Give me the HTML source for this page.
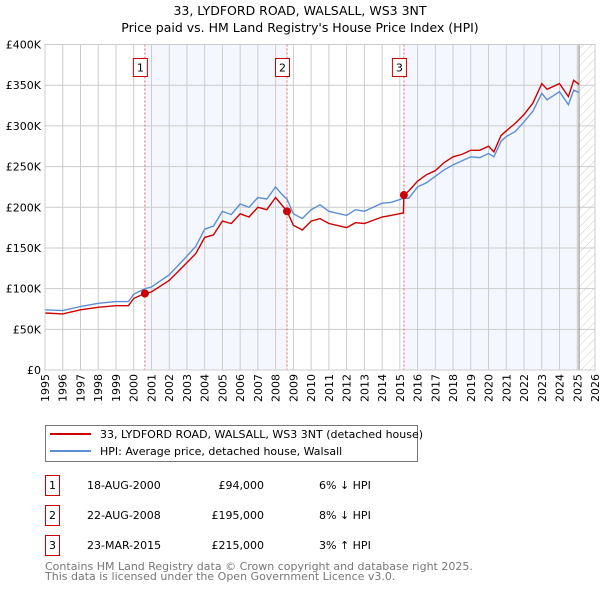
<!DOCTYPE html>
<html><head><meta charset="utf-8"><style>
body{margin:0;background:#fff;font-family:"DejaVu Sans","Liberation Sans",sans-serif;}
svg text{font-family:"DejaVu Sans","Liberation Sans",sans-serif;}
</style></head><body>
<svg id="c" width="600" height="590" xmlns="http://www.w3.org/2000/svg">
<defs><pattern id="hatch" width="6" height="6" patternUnits="userSpaceOnUse" patternTransform="rotate(45)"><line x1="0" y1="0" x2="0" y2="6" stroke="#ccc" stroke-width="1"/></pattern></defs>
<text x="300" y="15" text-anchor="middle" font-size="12.5">33, LYDFORD ROAD, WALSALL, WS3 3NT</text>
<text x="300" y="32" text-anchor="middle" font-size="12.5">Price paid vs. HM Land Registry's House Price Index (HPI)</text>
<g id="plot"></g>
<g>
<rect x="45.5" y="425.5" width="372" height="36" fill="#fff" stroke="#777"/>
<line x1="50" y1="434" x2="91" y2="434" stroke="#cc0000" stroke-width="2"/>
<text x="100" y="438" font-size="11">33, LYDFORD ROAD, WALSALL, WS3 3NT (detached house)</text>
<line x1="50" y1="451" x2="91" y2="451" stroke="#5b8fd4" stroke-width="2"/>
<text x="100" y="455" font-size="11">HPI: Average price, detached house, Walsall</text>
</g>
<g id="table" font-size="11"></g>
<text x="45" y="570" font-size="11" fill="#777">Contains HM Land Registry data © Crown copyright and database right 2025.</text>
<text x="45" y="580" font-size="11" fill="#777">This data is licensed under the Open Government Licence v3.0.</text>
</svg>
<script>
const years=[1995,1996,1997,1998,1999,1999.7,2000,2000.63,2001,2002,2003,2003.5,2004,2004.5,2005,2005.5,2006,2006.5,2007,2007.5,2008,2008.3,2008.64,2009,2009.5,2010,2010.5,2011,2012,2012.5,2013,2014,2014.5,2015.2,2015.23,2015.5,2016,2016.5,2017,2017.5,2018,2018.5,2019,2019.5,2020,2020.3,2020.7,2021,2021.5,2022,2022.5,2023,2023.3,2024,2024.5,2024.8,2025.1];
const hpi=[74,73,78,82,84,84,93,100,102,117,140,152,173,177,195,191,204,200,212,210,225,217,210,192,186,197,203,195,190,197,195,205,206,211,211,211,225,230,238,246,252,257,262,261,266,262,281,287,293,305,318,340,332,342,326,344,341];
const prop=[70,69,74,77,79,79,88,94,96,110,132,143,163,166,183,180,192,188,200,197,212,204,195,178,172,183,186,180,175,181,180,188,190,193,215,220,232,240,245,255,262,265,270,270,275,268,288,294,303,314,328,352,345,352,336,356,351];
const saleYears=[2000.63,2008.64,2015.23];
const salePrices=[94,195,215];
const saleLabels=["1","2","3"];
const saleDates=["18-AUG-2000","22-AUG-2008","23-MAR-2015"];
const salePriceText=["£94,000","£195,000","£215,000"];
const saleHpi=["6% ↓ HPI","8% ↓ HPI","3% ↑ HPI"];
const yTicks=[0,50,100,150,200,250,300,350,400];
const yTickLabels=["£0","£50K","£100K","£150K","£200K","£250K","£300K","£350K","£400K"];
const xTicks=[1995,1996,1997,1998,1999,2000,2001,2002,2003,2004,2005,2006,2007,2008,2009,2010,2011,2012,2013,2014,2015,2016,2017,2018,2019,2020,2021,2022,2023,2024,2025,2026];
const dataEnd=2025.1;

const L=45,R=595,T=44.5,B=370;
const X=y=>L+(y-1995)/(2026-1995)*(R-L);
const Y=v=>B-v/400*(B-T);
const NS="http://www.w3.org/2000/svg";
const g=document.getElementById('plot');
function mk(tag,attrs,parent){const e=document.createElementNS(NS,tag);for(const k in attrs)e.setAttribute(k,attrs[k]);(parent||g).appendChild(e);return e;}

let e=mk('rect',{x:L,y:T,width:R-L,height:B-T,fill:'#fff'});


e=mk('rect',{x:X(saleYears[0]),y:T,width:X(saleYears[1])-X(saleYears[0]),height:B-T,fill:'#f4f7fd'});


e=mk('rect',{x:X(saleYears[2]),y:T,width:X(dataEnd)-X(saleYears[2]),height:B-T,fill:'#f4f7fd'});


e=mk('rect',{x:X(dataEnd),y:T,width:R-X(dataEnd),height:B-T,fill:'url(#hatch)'});


xTicks.forEach(t=>{
 e=mk('line',{x1:X(t),x2:X(t),y1:T,y2:B,stroke:'#ccc','stroke-width':1});
 
 
 e=mk('text',{x:0,y:0,'font-size':11,'text-anchor':'end',transform:`translate(${X(t)+4},${B+4}) rotate(-90)`});
 e.textContent=t;
 
 
});
yTicks.forEach((t,i)=>{
 e=mk('line',{x1:L,x2:R,y1:Y(t),y2:Y(t),stroke:'#ccc','stroke-width':1});
 
 
 e=mk('text',{x:L-4,y:Y(t)+4,'font-size':11,'text-anchor':'end'});
 e.textContent=yTickLabels[i];
 
 
});
e=mk('line',{x1:X(dataEnd),x2:X(dataEnd),y1:T,y2:B,stroke:'#888','stroke-width':1});


saleYears.forEach((s,i)=>{
 e=mk('line',{x1:X(s),x2:X(s),y1:T,y2:B,stroke:'#f06060','stroke-width':1,'stroke-dasharray':'2,2'});
 
 
});
const pts=a=>a.map((v,i)=>X(years[i]).toFixed(1)+','+Y(v).toFixed(1)).join(' ');
e=mk('polyline',{points:pts(hpi),fill:'none',stroke:'#5b8fd4','stroke-width':1.4});


e=mk('polyline',{points:pts(prop),fill:'none',stroke:'#cc0000','stroke-width':1.4});


saleYears.forEach((s,i)=>{
 e=mk('circle',{cx:X(s),cy:Y(salePrices[i]),r:4,fill:'#cc0000'});
 
 
 e=mk('rect',{x:X(s)-11.5,y:58.5,width:14,height:18,fill:'#fff',stroke:'#cc0000'});
 
 
 e=mk('text',{x:X(s)-4.5,y:71.5,'font-size':11,'text-anchor':'middle'});
 e.textContent=saleLabels[i];
 
 
});
e=mk('rect',{x:L,y:T,width:R-L,height:B-T,fill:'none',stroke:'#ccc'});



const tb=document.getElementById('table');
saleLabels.forEach((l,i)=>{
 const y=476+i*30;
 e=mk('rect',{x:45.5,y:y-0.5,width:14,height:20,fill:'#fff',stroke:'#cc0000'},tb);
 
 
 e=mk('text',{x:52.5,y:y+13,'text-anchor':'middle'},tb);e.textContent=l;
 
 
 e=mk('text',{x:87,y:y+13},tb);e.textContent=saleDates[i];
 
 
 e=mk('text',{x:264,y:y+13,'text-anchor':'end'},tb);e.textContent=salePriceText[i];
 
 
 e=mk('text',{x:319,y:y+13},tb);e.textContent=saleHpi[i];
 
 
});
</script>
</body></html>
